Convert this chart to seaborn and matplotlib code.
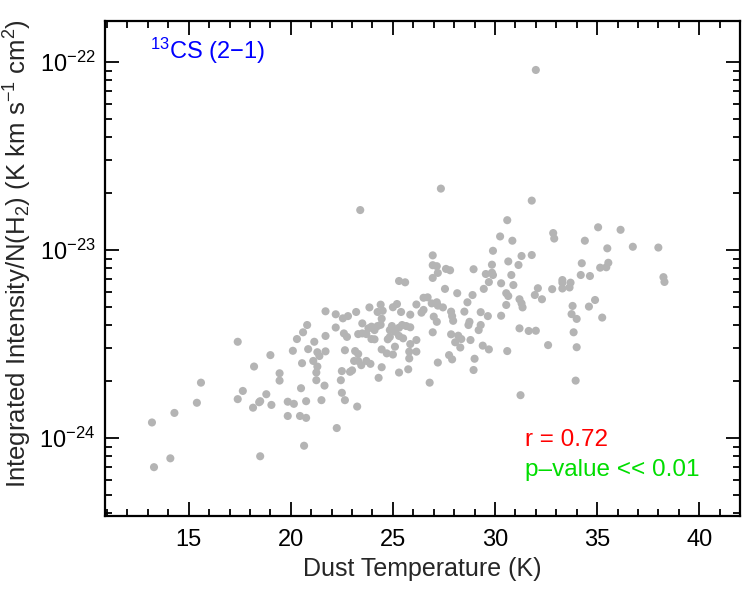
import numpy as np
import pandas as pd
import matplotlib
matplotlib.use("Agg")
import matplotlib.pyplot as plt
from matplotlib.ticker import LogLocator, MultipleLocator, NullFormatter, FixedLocator
import seaborn as sns


# 1. Data (intensity in units of 1e-24)
dust_temp = [
    13.2, 13.3, 14.1, 14.3, 15.4, 15.6, 17.4, 17.4, 17.65, 18.15,
    18.2, 18.45, 18.5, 18.5, 18.8, 19.0, 19.05, 19.45, 19.45, 19.85,
    19.85, 20.15, 20.1, 20.45, 20.75, 20.65, 20.5, 20.75, 20.3, 20.6,
    20.8, 20.55, 20.85, 21.1, 21.15, 21.25, 21.25, 21.3, 21.3, 21.4,
    21.5, 21.65, 21.7, 21.7, 21.7, 22.2, 22.2, 22.25, 22.5, 22.45,
    22.5, 22.55, 22.65, 22.6, 22.75, 22.65, 22.8, 22.9, 23.0, 23.1,
    23.15, 23.2, 23.25, 23.3, 23.3, 23.3, 23.4, 23.45, 23.5, 23.5,
    23.7, 23.7, 23.8, 23.85, 23.9, 23.95, 23.95, 24.1, 24.1, 24.25,
    24.25, 24.3, 24.4, 24.4, 24.5, 24.45, 24.45, 24.45, 24.7, 24.75,
    24.85, 24.85, 24.95, 25.0, 25.0, 25.2, 25.1, 25.1, 25.3, 25.3,
    25.4, 25.45, 25.5, 25.65, 25.3, 25.75, 25.85, 25.85, 25.85, 25.8,
    25.8, 26.15, 26.15, 26.15, 25.3, 25.6,
    26.5, 26.7, 26.5, 26.4, 26.9, 27.15, 27.2, 27.45, 27.55, 28.15,
    28.9, 28.65, 29.45, 29.7, 30.3, 30.55, 30.65, 30.55, 30.3, 27.85,
    27.9, 27.95, 27.0, 27.15, 28.5, 29.3, 29.65, 28.75, 28.7, 29.3,
    29.2, 26.95, 27.85, 28.2, 28.35, 28.05, 28.3, 28.8, 29.4, 29.7,
    30.6, 29.0, 27.75, 27.9, 27.2, 28.95, 26.8,
    27.35, 30.6, 30.25, 29.9, 26.95, 30.65, 26.95, 27.15, 27.6, 27.8,
    27.2, 28.95, 29.85, 29.55, 29.85, 29.9, 26.95,
    31.8, 30.85, 32.85, 32.9, 35.05, 34.4, 35.5, 31.3, 31.15, 31.8,
    30.8, 34.25, 34.2, 34.65, 35.15, 35.45, 35.55, 33.3,
    30.9, 32.1, 31.95, 32.3, 32.8, 31.2, 31.3, 31.35, 33.3, 33.7,
    33.3, 33.65, 33.8, 34.6, 34.9, 33.75, 34.0, 35.25, 31.2, 31.65,
    32.0, 33.85, 32.6, 34.0, 33.95, 31.25, 36.15, 36.75, 38.0, 38.25, 38.3, 32.0,
]

intensity_e24 = [
    1.21, 0.70, 0.78, 1.36, 1.54, 1.97, 3.25, 1.61, 1.78, 1.45,
    2.40, 1.55, 1.57, 0.80, 1.71, 2.76, 1.50, 2.21, 2.02, 1.56,
    1.31, 1.52, 2.91, 1.31, 1.28, 0.91, 1.84, 1.57, 3.36, 3.65,
    3.99, 2.50, 2.97, 2.57, 3.25, 2.03, 2.23, 2.40, 2.86, 2.73,
    1.59, 1.90, 2.89, 3.49, 4.72, 3.87, 4.55, 1.13, 1.74, 2.03,
    2.27, 4.33, 1.59, 3.60, 3.45, 2.93, 4.45, 2.25, 2.29, 2.57,
    2.90, 4.68, 1.47, 2.80, 2.57, 3.57, 16.3, 2.44, 3.60, 4.07,
    2.57, 3.57, 3.83, 4.95, 2.48, 3.91, 3.36, 3.35, 3.75, 3.94,
    4.68, 2.09, 4.00, 5.12, 4.75, 4.31, 2.96, 2.38, 2.82, 3.35,
    3.75, 3.45, 3.94, 4.96, 2.78, 5.16, 3.06, 3.68, 3.86, 3.49,
    4.68, 3.99, 3.39, 3.94, 2.23, 2.32, 4.53, 3.88, 3.16, 2.88,
    2.65, 3.32, 2.88, 5.13, 6.84, 6.73,
    5.57, 5.60, 4.80, 4.64, 5.20, 5.27, 5.06, 4.95, 6.21, 5.89,
    5.76, 5.27, 6.21, 6.75, 6.65, 5.89, 5.69, 5.10, 4.47, 4.70,
    4.45, 4.20, 4.42, 4.15, 4.70, 4.67, 4.45, 4.15, 3.99, 3.99,
    3.75, 3.65, 3.56, 3.50, 3.36, 3.23, 3.03, 3.32, 3.10, 2.96,
    2.90, 2.64, 2.76, 2.62, 2.52, 2.30, 1.97,
    21.2, 14.4, 11.8, 9.9, 9.36, 8.69, 8.30, 8.2, 7.93, 7.80,
    7.55, 7.90, 8.35, 7.45, 7.57, 7.36, 7.10,
    18.3, 11.2, 12.3, 11.5, 13.2, 11.2, 10.2, 9.29, 8.32, 9.40,
    7.36, 8.50, 7.36, 7.27, 8.05, 8.09, 8.55, 6.92,
    6.51, 6.26, 5.76, 5.47, 6.19, 5.47, 5.20, 4.95, 6.70, 6.70,
    6.24, 6.32, 5.04, 5.00, 5.42, 4.56, 4.30, 4.37, 3.83, 3.71,
    3.72, 3.65, 3.12, 3.04, 2.02, 1.69, 12.8, 10.4, 10.3, 7.17, 6.76, 90.6,
]

y_major_ticks = [1e-24, 1e-23, 1e-22]

line_label = r"$^{13}$CS (2$-$1)"
r_text = "r = 0.72"
p_text = "p\u2013value << 0.01"

df = pd.DataFrame({
    "Dust Temperature": dust_temp,
    "Intensity": np.array(intensity_e24) * 1e-24,
})


# 2. Style
sns.set_style("ticks")
plt.rcParams["font.family"] = ["Liberation Sans", "DejaVu Sans"]
plt.rcParams["mathtext.fontset"] = "custom"
plt.rcParams["mathtext.rm"] = "Liberation Sans"
plt.rcParams["mathtext.it"] = "Liberation Sans:italic"
plt.rcParams["mathtext.bf"] = "Liberation Sans:bold"
plt.rcParams["mathtext.sf"] = "Liberation Sans"


# 3. Plot
fig = plt.figure(figsize=(7.5, 6), dpi=100)
ax = fig.add_axes([0.14, 0.14, 0.8467, 0.825])

sns.scatterplot(
    data=df,
    x="Dust Temperature",
    y="Intensity",
    color="#b4b4b4",
    s=34,
    edgecolor="none",
    ax=ax,
)

ax.set_yscale("log")
ax.set_xlim(10.9, 42.0)
ax.set_ylim(3.85e-25, 1.65e-22)

ax.xaxis.set_major_locator(MultipleLocator(5))
ax.xaxis.set_minor_locator(MultipleLocator(1))
ax.yaxis.set_major_locator(FixedLocator(y_major_ticks))
ax.yaxis.set_minor_locator(LogLocator(base=10, subs=np.arange(2, 10), numticks=20))
ax.yaxis.set_minor_formatter(NullFormatter())

ax.tick_params(which="both", direction="in", top=True, right=True, width=1.3,
               labelsize=17, colors="black")
ax.tick_params(which="major", length=10)
ax.tick_params(which="minor", length=5)
ax.tick_params(axis="x", pad=9)
ax.tick_params(axis="y", pad=7)

for spine in ax.spines.values():
    spine.set_linewidth(1.6)
    spine.set_color("black")

ax.set_xlabel("Dust Temperature (K)", fontsize=18, labelpad=5)
ax.set_ylabel(r"Integrated Intensity/N(H$_2$) (K km s$^{-1}$ cm$^2$)", fontsize=18.5)
ax.yaxis.set_label_coords(-0.112, 0.531)

ax.text(0.071, 0.94, line_label, transform=ax.transAxes, color="#0000ff",
        fontsize=17, va="center", ha="left")
ax.text(0.661, 0.154, r_text, transform=ax.transAxes, color="#ff0000",
        fontsize=17.5, va="center", ha="left")
ax.text(0.661, 0.093, p_text, transform=ax.transAxes, color="#00dd00",
        fontsize=17.5, va="center", ha="left")

fig.savefig("out.png", dpi=100)
